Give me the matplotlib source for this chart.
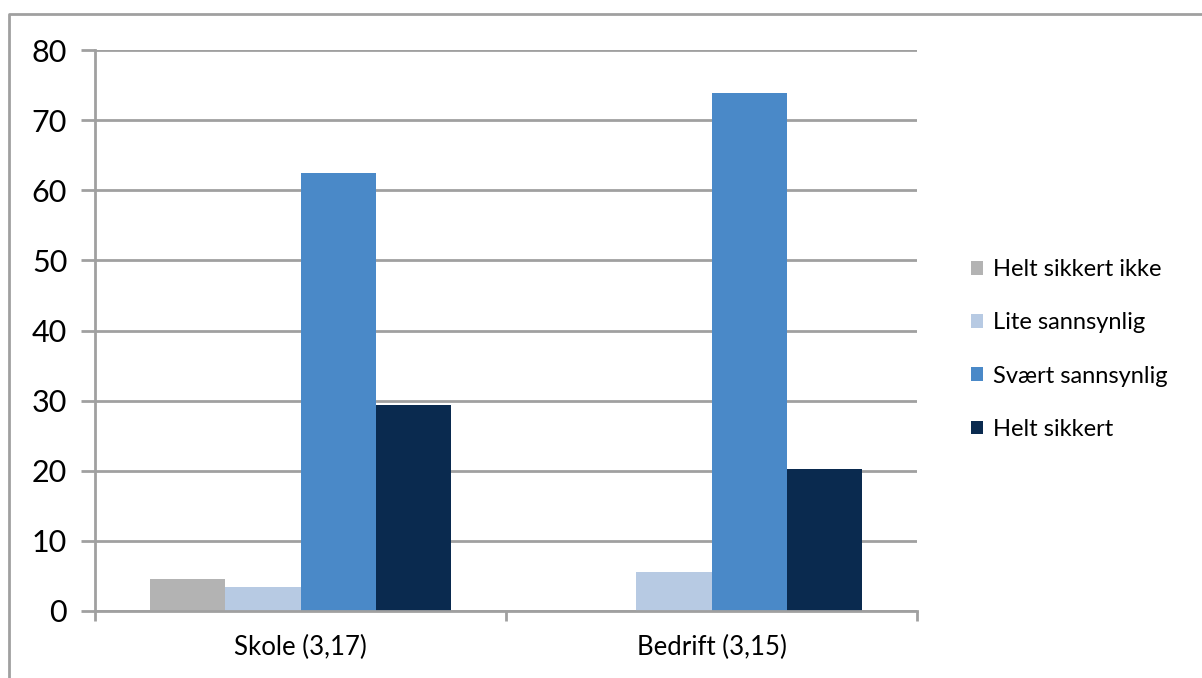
import numpy as np
import matplotlib
matplotlib.use('Agg')
import matplotlib.pyplot as plt
from matplotlib.patches import Patch
from matplotlib.lines import Line2D

plt.rcParams['font.family'] = ['Lato', 'DejaVu Sans']

# Data
categories = ['Skole (3,17)', 'Bedrift (3,15)']
series = ['Helt sikkert ikke', 'Lite sannsynlig', 'Svært sannsynlig', 'Helt sikkert']
helt_sikkert_ikke = [4.5, 0.0]
lite_sannsynlig = [3.4, 5.6]
svaert_sannsynlig = [62.4, 73.9]
helt_sikkert = [29.4, 20.2]
values = [helt_sikkert_ikke, lite_sannsynlig, svaert_sannsynlig, helt_sikkert]
colors = ['#b3b3b3', '#b7cae3', '#4a89c8', '#0a2a4f']

grid_col = '#a0a0a0'

fig = plt.figure(figsize=(12.02, 6.78), dpi=100)
W, H = 1202, 678
ax = fig.add_axes([95 / W, 1 - 611 / H, (917 - 95) / W, (611 - 50) / H])

x = np.arange(len(categories))
w = 0.1825
for i, (vals, col) in enumerate(zip(values, colors)):
    ax.bar(x + (i - 1.5) * w, vals, width=w, color=col, zorder=3, label=series[i])

ax.set_xlim(-0.5, 1.5)
ax.set_ylim(0, 80)
ax.set_yticks(np.arange(0, 81, 10))
ax.yaxis.grid(True, color=grid_col, lw=2, zorder=0)
ax.set_axisbelow(True)

for s in ['top', 'right']:
    ax.spines[s].set_visible(False)
for s in ['left', 'bottom']:
    ax.spines[s].set_color(grid_col)
    ax.spines[s].set_linewidth(2)
    ax.spines[s].set_zorder(4)

# category boundaries get the ticks, labels sit in the middle
ax.set_xticks([-0.5, 0.5, 1.5])
ax.set_xticklabels([])
ax.set_xticks(x, minor=True)
ax.set_xticklabels(categories, minor=True, fontsize=18.5)
ax.tick_params(axis='x', which='major', length=7, width=2, color=grid_col)
ax.tick_params(axis='x', which='minor', length=0, pad=17)
ax.tick_params(axis='y', length=10, width=2, color=grid_col, labelsize=22, pad=10)

handles = [Patch(facecolor=c, edgecolor='none') for c in colors]
ax.legend(handles, series, loc='center left', bbox_to_anchor=(971 / W, 1 - 349.5 / H),
          bbox_transform=fig.transFigure, frameon=False, fontsize=17,
          handlelength=0.5, handleheight=0.5, handletextpad=0.45,
          labelspacing=1.36, borderpad=0, borderaxespad=0)

# chart area border
fig.add_artist(Line2D([8.5 / W, 8.5 / W, 1.0], [0.0, 1 - 13.5 / H, 1 - 13.5 / H],
                      transform=fig.transFigure, color=grid_col, lw=2))

fig.savefig('out.png', dpi=100)
